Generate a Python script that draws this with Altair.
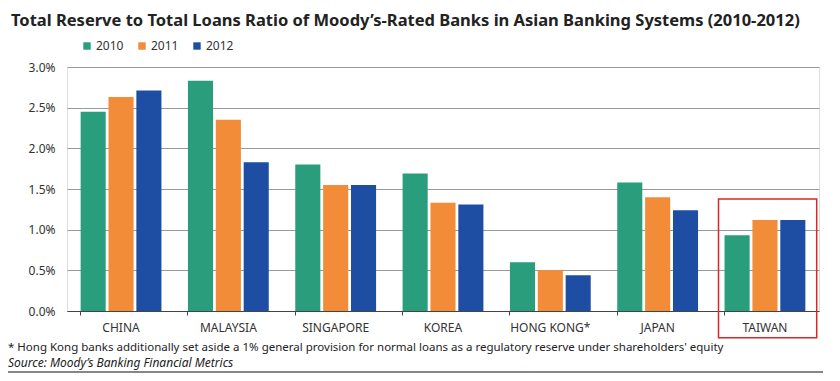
import altair as alt
import pandas as pd

categories = ["CHINA", "MALAYSIA", "SINGAPORE", "KOREA", "HONG KONG*", "JAPAN", "TAIWAN"]
years = ["2010", "2011", "2012"]
v2010 = [2.45, 2.83, 1.80, 1.69, 0.60, 1.58, 0.93]
v2011 = [2.63, 2.35, 1.55, 1.33, 0.50, 1.40, 1.12]
v2012 = [2.71, 1.83, 1.55, 1.31, 0.44, 1.24, 1.12]
colors = ["#2A9D7C", "#F28C38", "#1E4EA3"]
y_ticks = [0, 0.5, 1.0, 1.5, 2.0, 2.5, 3.0]

title_text = "Total Reserve to Total Loans Ratio of Moody\u2019s-Rated Banks in Asian Banking Systems (2010-2012)"
footnote = "* Hong Kong banks additionally set aside a 1% general provision for normal loans as a regulatory reserve under shareholders' equity"
source = "Source:  Moody\u2019s Banking Financial Metrics"
highlight = "TAIWAN"

rows = []
for series, yr in zip([v2010, v2011, v2012], years):
    for c, v in zip(categories, series):
        rows.append({"country": c, "year": yr, "value": v})
df = pd.DataFrame(rows)

W, H = 752, 244
FONT = "Noto Sans"

bars = alt.Chart(df).mark_bar().encode(
    x=alt.X("country:N", sort=categories,
            scale=alt.Scale(paddingInner=0.247, paddingOuter=0.127),
            axis=alt.Axis(title=None, labelAngle=0, bandPosition=0, ticks=True, tickSize=4,
                          domainColor="#444", tickColor="#444", domainWidth=1.2,
                          labelFont=FONT, labelFontSize=12, labelColor="#333",
                          labelPadding=7, grid=False)),
    xOffset=alt.XOffset("year:N", scale=alt.Scale(paddingInner=0.1, paddingOuter=0)),
    y=alt.Y("value:Q", scale=alt.Scale(domain=[0, 3], nice=False),
            axis=alt.Axis(title=None, values=y_ticks, labelExpr="format(datum.value, '.1f') + '%'",
                          domain=False, ticks=False, labelPadding=12,
                          labelFont=FONT, labelFontSize=12, labelColor="#333",
                          grid=True, gridColor="#9a9a9a", gridWidth=1.2)),
    color=alt.Color("year:N", scale=alt.Scale(domain=years, range=colors),
                    legend=alt.Legend(title=None, orient="none", legendX=14, legendY=-27,
                                      direction="horizontal", symbolType="square",
                                      symbolSize=55, symbolStrokeWidth=0, labelFont=FONT,
                                      labelFontSize=12, labelColor="#333",
                                      labelOffset=3, columnPadding=12)),
)

one = pd.DataFrame({"k": [highlight]})

box = alt.Chart(one).mark_rect(fill=None, stroke="#D62828", strokeWidth=1.5).encode(
    x=alt.value(651.5), x2=alt.value(749.7), y=alt.value(132), y2=alt.value(270.7)
)

title = alt.Chart(one).mark_text(
    text=title_text, align="left", baseline="alphabetic", font=FONT, fontSize=16.5,
    fontWeight="bold", color="#222"
).encode(x=alt.value(-56), y=alt.value(-41))

foot = alt.Chart(one).mark_text(
    text=footnote, align="left", baseline="alphabetic", font=FONT, fontSize=11.5, color="#222"
).encode(x=alt.value(-59), y=alt.value(284))

src = alt.Chart(one).mark_text(
    text=source, align="left", baseline="alphabetic", font=FONT, fontSize=12,
    fontStyle="italic", color="#222"
).encode(x=alt.value(-59), y=alt.value(300))

bottom_line = alt.Chart(one).mark_rule(color="#111", strokeWidth=1.2).encode(
    x=alt.value(-59), x2=alt.value(756), y=alt.value(305)
)

chart = alt.layer(bars, box, title, foot, src, bottom_line).properties(
    width=W, height=H,
    autosize=alt.AutoSizeParams(type="none"),
    padding={"left": 59, "top": 59, "right": 13, "bottom": 62},
).configure_view(stroke=None).configure(background="white")

chart.save("out.html", embed_options={"renderer": "svg", "actions": False})
